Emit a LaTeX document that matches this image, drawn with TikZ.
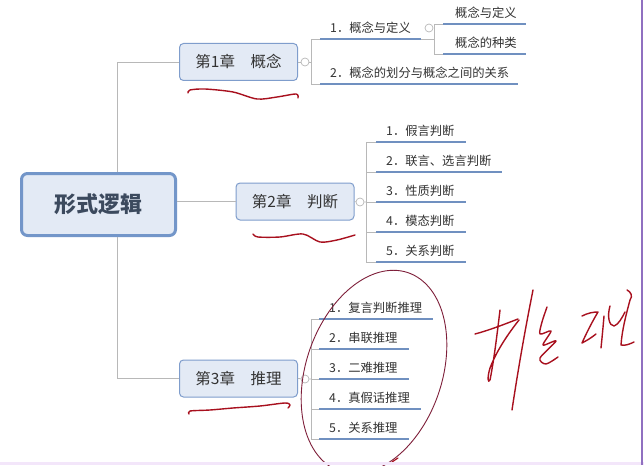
\documentclass[tikz,border=0pt]{standalone}
\usepackage{fontspec}
\newfontfamily\cjk{Noto Sans CJK SC}
\definecolor{nodefill}{HTML}{E3EAF5}
\definecolor{nodeline}{HTML}{7F9DCC}
\definecolor{rootline}{HTML}{7396C9}
\definecolor{rootText}{HTML}{3C4A5E}
\definecolor{txt}{HTML}{333333}
\definecolor{conn}{HTML}{B8B8B8}
\definecolor{uline}{HTML}{7090C0}
\definecolor{pen}{HTML}{A8101E}
\definecolor{ring}{HTML}{7E1F3A}
\definecolor{frameR}{HTML}{9070C0}
\definecolor{frameB}{HTML}{F3E6FA}
\tikzset{
  rootbox/.style={draw=rootline, line width=3pt, fill=nodefill, rounded corners=6pt,
    minimum width=154pt, minimum height=62pt, inner sep=0pt,
    font=\cjk\bfseries\fontsize{22}{24}\selectfont, text=rootText},
  chapbox/.style={draw=nodeline, line width=1pt, fill=nodefill, rounded corners=4pt,
    minimum width=118pt, minimum height=37pt, inner sep=0pt,
    font=\cjk\fontsize{15.5}{18}\selectfont, text=txt},
  basebox/.style={inner xsep=0pt, inner ysep=0pt, anchor=south west, align=left,
    text depth=6.4pt, font=\cjk\fontsize{12.3}{14}\selectfont, text=txt},
  itembox/.style={basebox, execute at begin node={\hspace*{10pt}}},
  subbox/.style={basebox, execute at begin node={\hspace*{12pt}}},
  uline/.style={draw=uline, line width=2pt},
  conn/.style={draw=conn, line width=0.8pt},
  knob/.style={circle, draw=conn, fill=white, line width=0.7pt, inner sep=0pt, minimum size=8pt},
  penline/.style={draw=pen, line width=1.4pt, line cap=round, line join=round},
}
\begin{document}
\begin{tikzpicture}[x=1pt,y=-1pt]
\useasboundingbox (0,0) rectangle (644,465);
\clip (0,0) rectangle (644,465);
\fill[white] (0,0) rectangle (644,465);

% main nodes
\node[rootbox] (root) at (98.5,204.5) {形式逻辑};
\node[chapbox] (ch1) at (238.5,62) {第1章　概念};
\node[chapbox] (ch2) at (295,201.5) {第2章　判断};
\node[chapbox] (ch3) at (238.5,378.5) {第3章　推理};

\coordinate (rx) at (117,0);
\draw[conn] (root.north -| rx) |- (ch1.west);
\draw[conn] (root.south -| rx) |- (ch3.west);
\draw[conn] (root.east |- ch2.west) -- (ch2.west);

% chapter 1
\node[knob] (k1) at (305,62) {};
\coordinate (b1) at (311,62);
\node[itembox, text width=101pt] (i11) at (320,39) {1．概念与定义};
\node[itembox, text width=198pt] (i12) at (320,84) {2．概念的划分与概念之间的关系};
\draw[conn] (ch1.east) -- (k1) -- (b1);
\draw[conn] (b1) |- (i11.south west);
\draw[conn] (b1) |- (i12.south west);
\foreach \n in {i11,i12} \draw[uline] (\n.south west) -- (\n.south east);

\coordinate (b11) at (434,39);
\node[knob] (k11) at (429,28) {};
\node[subbox, text width=83pt] (s1) at (443,24) {概念与定义};
\node[subbox, text width=83pt] (s2) at (443,54) {概念的种类};
\draw[conn] (i11.south east) -- (b11);
\draw[conn] (b11) |- (s1.south west);
\draw[conn] (b11) |- (s2.south west);
\foreach \n in {s1,s2} \draw[uline] (\n.south west) -- (\n.south east);

% chapter 2
\node[knob] (k2) at (360,202) {};
\coordinate (b2) at (366,202);
\node[itembox, text width=90pt] (j1) at (376,142) {1．假言判断};
\node[itembox, text width=126pt] (j2) at (376,172) {2．联言、选言判断};
\node[itembox, text width=90pt] (j3) at (376,202) {3．性质判断};
\node[itembox, text width=90pt] (j4) at (376,232) {4．模态判断};
\node[itembox, text width=90pt] (j5) at (376,262) {5．关系判断};
\draw[conn] (ch2.east) -- (k2) -- (b2);
\foreach \n in {j1,j2,j3,j4,j5} {
  \draw[conn] (b2) |- (\n.south west);
  \draw[uline] (\n.south west) -- (\n.south east);
}

% chapter 3
\node[knob] (k3) at (305,379) {};
\coordinate (b3) at (311,379);
\node[itembox, text width=114pt] (r1) at (319,319) {1．复言判断推理};
\node[itembox, text width=90pt] (r2) at (319,349) {2．串联推理};
\node[itembox, text width=90pt] (r3) at (319,379) {3．二难推理};
\node[itembox, text width=102pt] (r4) at (319,409) {4．真假话推理};
\node[itembox, text width=90pt] (r5) at (319,439) {5．关系推理};
\draw[conn] (ch3.east) -- (k3) -- (b3);
\foreach \n in {r1,r2,r3,r4,r5} {
  \draw[conn] (b3) |- (\n.south west);
  \draw[uline] (\n.south west) -- (\n.south east);
}

% handwritten underlines
\draw[penline] plot[smooth] coordinates {(188,93) (190,90) (205,89) (233,92) (257,99) (277,97) (296,94) (298,98)};
\draw[penline] plot[smooth] coordinates {(253,234) (258,237) (280,237) (303,234) (320,242) (337,240) (355,235)};
\draw[penline] plot[smooth] coordinates {(189,414) (190,411) (210,410) (233,408) (260,406) (285,403) (290,405) (288,408)};

% ellipse around chapter 3 items
\draw[draw=ring, line width=0.9pt] plot[domain=0:360, samples=120, smooth]
  ({374 + 105*cos(\x)*cos(-71) - 68*sin(\x)*sin(-71)}, {372 + 105*cos(\x)*sin(-71) + 68*sin(\x)*cos(-71)});
\draw[penline, line width=1.2pt] (392,462) -- (398,458);

% handwritten characters
\draw[penline] (475,334) .. controls (490,330) and (505,324) .. (518,319);
\draw[penline] (500,310) .. controls (497,335) and (494,360) .. (490,380)
  .. controls (488,384) and (487,378) .. (490,368) .. controls (497,350) and (508,334) .. (519,320);
\draw[penline] (533,290) .. controls (525,330) and (518,370) .. (512,410);
\draw[penline] plot[smooth] coordinates {(547,307) (542,322) (540,334) (551,331) (543,345) (556,341) (540,358) (546,364) (558,357)};
\draw[penline] (582,316) .. controls (588,313) and (593,312) .. (598,312)
  .. controls (592,322) and (586,334) .. (582,343) .. controls (586,341) and (591,338) .. (596,334);
\draw[penline] (604,316) .. controls (603,328) and (602,338) .. (601,348);
\draw[penline] (610,306) .. controls (607,316) and (609,326) .. (614,326)
  .. controls (618,325) and (622,318) .. (625,312);
\draw[penline] (627,290) .. controls (631,292) and (633,296) .. (630,300)
  .. controls (626,315) and (622,330) .. (621,345) .. controls (625,346) and (630,344) .. (634,342);

% frame remnants
\fill[frameB] (0,462) rectangle (644,465);
\draw[frameR, line width=1.2pt] (642,0) -- (642,465);
\end{tikzpicture}
\end{document}
